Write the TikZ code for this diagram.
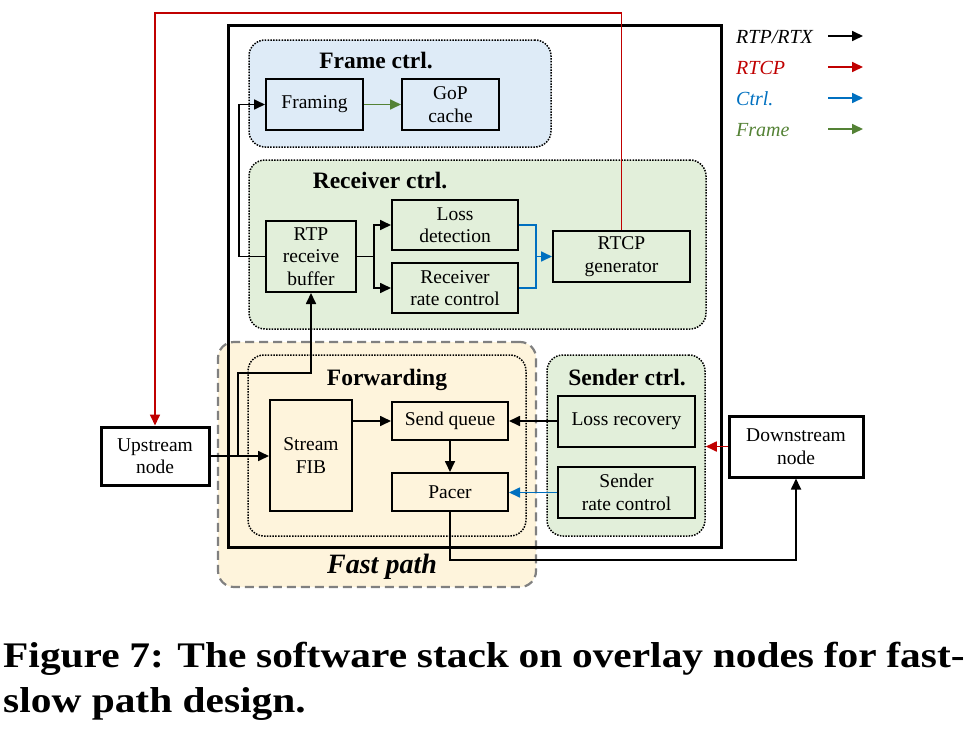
\documentclass[tikz,border=0pt]{standalone}
\usepackage{fontspec}
\setmainfont{Liberation Serif}
\usetikzlibrary{arrows.meta}
\definecolor{cred}{HTML}{C00000}
\definecolor{cblue}{HTML}{0070C0}
\definecolor{cgreen}{HTML}{548235}
\definecolor{bgblue}{HTML}{DEEBF7}
\definecolor{bggreen}{HTML}{E2EFDA}
\definecolor{bgyellow}{HTML}{FEF4DC}
\newcommand\boxfnt{\fontsize{19.5}{22.5}\selectfont}
\newcommand\ttlfnt{\fontsize{23.5}{26}\selectfont\bfseries}
\tikzset{
  region/.style={draw, line width=1.5pt, dash pattern=on 1.5pt off 1.3pt, rounded corners=16pt, inner sep=0pt},
  fastregion/.style={draw=black!50, line width=2.2pt, dash pattern=on 9pt off 5pt, rounded corners=16pt, fill=bgyellow, inner sep=0pt},
  outerbox/.style={draw, line width=3pt, inner sep=0pt},
  box/.style={draw, line width=2pt, inner sep=0pt, align=center, font=\boxfnt},
  endbox/.style={box, line width=3pt, fill=white},
  title/.style={font=\ttlfnt, anchor=base, inner sep=0pt},
  legtext/.style={font=\fontsize{20}{24}\selectfont\itshape, anchor=base west, inner sep=0pt},
  arr/.style={-{Triangle[length=11pt,width=10pt]}, line width=1.7pt},
  conn/.style={line width=1.7pt}
}
\begin{document}
\begin{tikzpicture}[x=1pt,y=-1pt]
\useasboundingbox (0,0) rectangle (971,728);

% regions
\node[fastregion, minimum width=318pt, minimum height=245pt] (fastpath) at (377,464.5) {};
\node[region, fill=bggreen, minimum width=158pt, minimum height=181pt] (sndctrl) at (626,445.5) {};
\node[outerbox, minimum width=493pt, minimum height=522pt] (outer) at (474.5,286) {};
\node[region, fill=bgblue, minimum width=302pt, minimum height=107pt] (framectrl) at (400,93.5) {};
\node[region, fill=bggreen, minimum width=457pt, minimum height=169pt] (rxctrl) at (477.5,244.5) {};
\node[region, minimum width=278pt, minimum height=181pt] (fwd) at (387,445.5) {};

% titles
\node[title] (tframe) at (376,68) {Frame ctrl.};
\node[title] (trx) at (380,188) {Receiver ctrl.};
\node[title] (tfwd) at (387,385) {Forwarding};
\node[title] (tsnd) at (627,385) {Sender ctrl.};
\node[title, font=\fontsize{28}{30}\selectfont\bfseries\itshape] (tfast) at (382,573) {Fast path};

% boxes
\node[box, minimum width=97pt, minimum height=51pt] (framing) at (314.5,104.5) {Framing};
\node[box, minimum width=97pt, minimum height=51pt] (gop) at (450.5,104.5) {GoP\\cache};
\node[box, minimum width=90pt, minimum height=71pt] (rtpbuf) at (311,256.5) {RTP\\receive\\buffer};
\node[box, minimum width=126pt, minimum height=50pt] (lossdet) at (455,225) {Loss\\detection};
\node[box, minimum width=126pt, minimum height=50pt] (rxrate) at (455,288) {Receiver\\rate control};
\node[box, minimum width=137pt, minimum height=51pt] (rtcpgen) at (621.5,256.5) {RTCP\\generator};
\node[box, minimum width=82pt, minimum height=111pt] (fib) at (311,455.5) {Stream\\FIB};
\node[box, minimum width=116pt, minimum height=38pt] (sendq) at (450,421) {Send queue};
\node[box, minimum width=116pt, minimum height=38pt] (pacer) at (450,492) {Pacer};
\node[box, minimum width=137pt, minimum height=51pt] (lossrec) at (626.5,421) {Loss recovery};
\node[box, minimum width=137pt, minimum height=51pt] (sndrate) at (626.5,492.5) {Sender\\rate control};
\node[endbox, minimum width=108pt, minimum height=58pt] (upstream) at (155,456) {Upstream\\node};
\node[endbox, minimum width=134pt, minimum height=61pt] (downstream) at (796,446.5) {Downstream\\node};

% helper coordinates
\coordinate (redtop) at (621.5,13);
\coordinate (fbx) at (239,0);
\coordinate (split) at (374,256.5);
\coordinate (bj) at (536,256.5);
\coordinate (br1) at (238,456);
\coordinate (bend) at (311,373);
\coordinate (low) at (0,560);

% connectors
\draw[arr, cred] (rtcpgen.north) -- (redtop) -| (upstream.north);
\draw[arr, cgreen] (framing.east) -- (gop.west);
\draw[arr] (rtpbuf.west) -- (rtpbuf.west -| fbx) |- (framing.west);
\draw[conn] (rtpbuf.east) -- (split);
\draw[arr] (split) |- (lossdet.west);
\draw[arr] (split) |- (rxrate.west);
\draw[conn, cblue] (lossdet.east) -| (bj);
\draw[conn, cblue] (rxrate.east) -| (bj);
\draw[arr, cblue] (bj) -- (rtcpgen.west);
\draw[arr] (upstream.east) -- (upstream.east -| fib.west);
\draw[arr] (br1) |- (bend) -- (rtpbuf.south);
\draw[arr] (fib.east |- sendq.west) -- (sendq.west);
\draw[arr] (sendq.south) -- (pacer.north);
\draw[arr] (lossrec.west) -- (lossrec.west -| sendq.east);
\draw[arr, cblue] (sndrate.west) -- (sndrate.west -| pacer.east);
\draw[arr, cred] (downstream.west) -- (downstream.west -| sndctrl.east);
\draw[arr] (pacer.south) -- (pacer.south |- low) -| (downstream.south);

% legend
\node[legtext] (l1) at (736,43) {RTP/RTX};
\node[legtext, text=cred] (l2) at (736,74) {RTCP};
\node[legtext, text=cblue] (l3) at (736,105) {Ctrl.};
\node[legtext, text=cgreen] (l4) at (736,136) {Frame};
\coordinate (a1s) at (828,36); \coordinate (a1e) at (863,36);
\coordinate (a2s) at (828,67); \coordinate (a2e) at (863,67);
\coordinate (a3s) at (828,98); \coordinate (a3e) at (863,98);
\coordinate (a4s) at (828,129); \coordinate (a4e) at (863,129);
\draw[arr] (a1s) -- (a1e);
\draw[arr, cred] (a2s) -- (a2e);
\draw[arr, cblue] (a3s) -- (a3e);
\draw[arr, cgreen] (a4s) -- (a4e);

% caption
\node[anchor=base west, inner sep=0pt, font=\fontsize{36}{40}\selectfont\bfseries] (cap1) at (3,667)
  {\scalebox{1.15}[1]{\makebox[836pt][s]{Figure 7: The software stack on overlay nodes for fast-}}};
\node[anchor=base west, inner sep=0pt, font=\fontsize{36}{40}\selectfont\bfseries] (cap2) at (3,712)
  {\scalebox{1.15}[1]{slow path design.}};
\end{tikzpicture}
\end{document}
